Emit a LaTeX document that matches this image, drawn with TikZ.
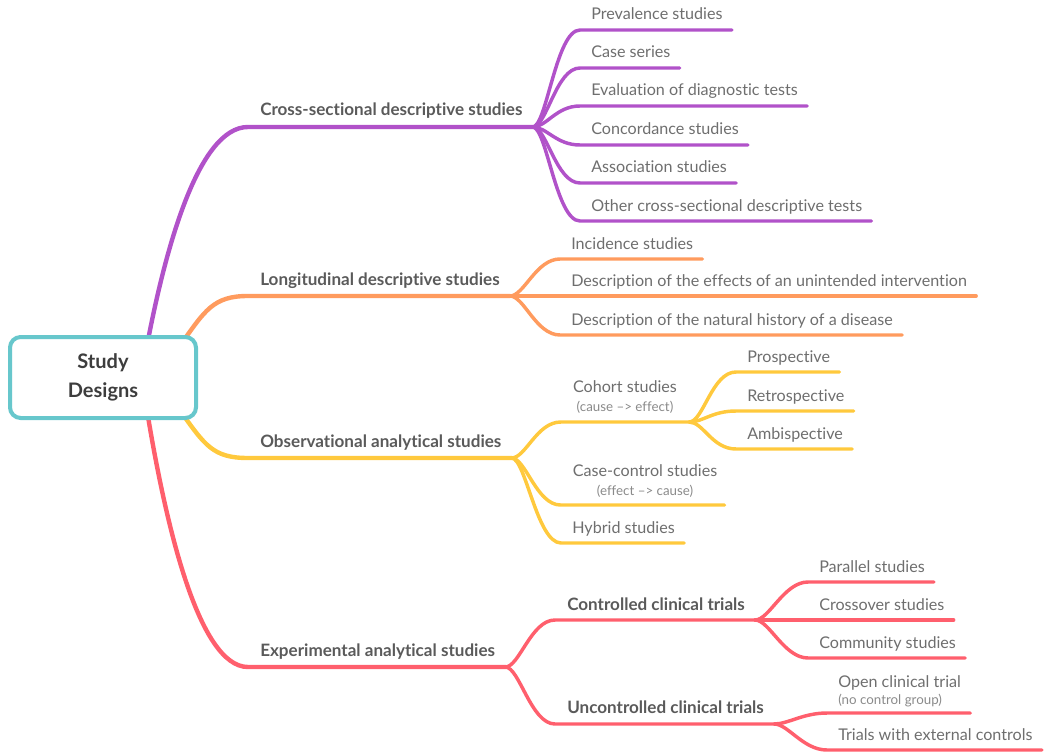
\documentclass[tikz,border=0pt]{standalone}
\usepackage{fontspec}
\setmainfont{Lato}[Ligatures={TeX,NoCommon}]
\usetikzlibrary{calc}
\definecolor{cpurple}{HTML}{B152C9}
\definecolor{corange}{HTML}{FF9B5E}
\definecolor{cyellow}{HTML}{FFC93D}
\definecolor{cred}{HTML}{FF5F6D}
\definecolor{ccyan}{HTML}{67C7CC}
\definecolor{leafgray}{HTML}{6E6E6E}
\definecolor{maingray}{HTML}{5A5A5A}
\definecolor{rootgray}{HTML}{3D3D3D}
\definecolor{notegray}{HTML}{8A8A8A}
\pgfdeclarelayer{bg}
\pgfsetlayers{bg,main}
\begin{document}
\begin{tikzpicture}[x=0.75pt,y=-0.75pt,
  leaf/.style={anchor=base west, inner sep=0pt, text=leafgray, font=\fontsize{12.1}{14}\selectfont},
  leafc/.style={anchor=base, inner sep=0pt, text=leafgray, font=\fontsize{12.1}{14}\selectfont},
  mainlbl/.style={anchor=base west, inner sep=0pt, text=maingray, font=\bfseries\fontsize{12.8}{15}\selectfont},
  notec/.style={anchor=base, inner sep=0pt, text=notegray, font=\fontsize{10}{12}\selectfont},
  notel/.style={anchor=base west, inner sep=0pt, text=notegray, font=\fontsize{10}{12}\selectfont},
  rootbox/.style={draw=ccyan, line width=3pt, rounded corners=8pt, fill=white,
    minimum width=139.5pt, minimum height=60.75pt, align=center, inner sep=0pt,
    text=rootgray, font=\bfseries\fontsize{15}{21.75}\selectfont},
  trunk/.style={line width=3.3pt, line cap=round},
  twig/.style={line width=2.6pt, line cap=round},
]
\useasboundingbox (0,0) rectangle (1044,752);

% ---------- root ----------
\node[rootbox] (root) at (103,377.5) {Study\\Designs};
\coordinate (r1) at ($(root.center)+(44,-32)$);
\coordinate (r2) at ($(root.center)+(77,-32)$);
\coordinate (r3) at ($(root.center)+(77,33)$);
\coordinate (r4) at ($(root.center)+(44,33)$);

% ---------- main labels ----------
\node[mainlbl] (pm) at (260,116) {Cross-sectional descriptive studies};
\node[mainlbl] (om) at (260,285) {Longitudinal descriptive studies};
\node[mainlbl] (ym) at (260,447) {Observational analytical studies};
\node[mainlbl] (rm) at (260,656) {Experimental analytical studies};
\foreach \n in {pm,om,ym,rm}{
  \coordinate (\n s) at ($(\n.base west)+(-12,11)$);
  \coordinate (\n f) at ($(\n.base east)+(10,11)$);
}

% ---------- purple leaves ----------
\node[leaf] (p1) at (591,20) {Prevalence studies};
\node[leaf] (p2) at (591,58) {Case series};
\node[leaf] (p3) at (591,96) {Evaluation of diagnostic tests};
\node[leaf] (p4) at (591,135) {Concordance studies};
\node[leaf] (p5) at (591,173) {Association studies};
\node[leaf] (p6) at (591,211) {Other cross-sectional descriptive tests};

% ---------- orange leaves ----------
\node[leaf] (o1) at (571,249) {Incidence studies};
\node[leaf] (o2) at (571,286) {Description of the effects of an unintended intervention};
\node[leaf] (o3) at (571,325) {Description of the natural history of a disease};

% ---------- yellow ----------
\node[leafc] (y1) at (625,392) {Cohort studies};
\node[notec] (y1n) at ($(y1.base)+(0,19)$) {(cause –> effect)};
\node[leafc] (y2) at (645,476) {Case-control studies};
\node[notec] (y2n) at ($(y2.base)+(0,19)$) {(effect –> cause)};
\node[leaf] (y3) at (572,533) {Hybrid studies};
\node[leaf] (c1) at (747,362) {Prospective};
\node[leaf] (c2) at (747,401) {Retrospective};
\node[leaf] (c3) at (747,439) {Ambispective};

% ---------- red ----------
\node[mainlbl] (k1) at (567,610) {Controlled clinical trials};
\node[mainlbl] (k2) at (567,713) {Uncontrolled clinical trials};
\node[leaf] (k11) at (819,572) {Parallel studies};
\node[leaf] (k12) at (819,610) {Crossover studies};
\node[leaf] (k13) at (819,648) {Community studies};
\node[leaf] (k21) at (838,687) {Open clinical trial};
\node[notel] (k21n) at ($(k21.base west)+(0,17)$) {(no control group)};
\node[leaf] (k22) at (838,740) {Trials with external controls};

% line end points
\foreach \n in {p1,p2,p3,p4,p5,p6,o1,o2,o3,y3,c1,c2,c3,k11,k12,k13,k22}{
  \coordinate (\n s) at ($(\n.base west)+(-11,10)$);
  \coordinate (\n e) at ($(\n.base east)+(9,10)$);
}
\coordinate (y1s) at ($(y1.base west)+(-12,30)$);
\coordinate (y1f) at ($(y1.base east)+(12,30)$);
\coordinate (y2s) at ($(y2.base west)+(-12,29)$);
\coordinate (y2e) at ($(y2.base east)+(7,29)$);
\coordinate (k1s) at ($(k1.base west)+(-12,10)$);
\coordinate (k1f) at ($(k1.base east)+(10,10)$);
\coordinate (k2s) at ($(k2.base west)+(-12,11)$);
\coordinate (k2f) at ($(k2.base east)+(10,11)$);
\coordinate (k21s) at ($(k21.base west)+(-11,26)$);
\coordinate (k21e) at ($(k21.base east)+(9,26)$);

\begin{pgfonlayer}{bg}
% trunks
\draw[trunk,cpurple] (r1) .. controls +(18,-95) and +(-50,0) .. (pms) -- (pmf);
\draw[trunk,corange] (r2) .. controls +(25,-35) and +(-35,0) .. (oms) -- (omf);
\draw[trunk,cyellow] (r3) .. controls +(25,35) and +(-35,0) .. (yms) -- (ymf);
\draw[trunk,cred] (r4) .. controls +(18,110) and +(-50,0) .. (rms) -- (rmf);
% purple twigs
\foreach \n in {p1,p2,p3,p4,p5,p6}
  \draw[twig,cpurple] (pmf) .. controls +(14,0) and +(-24,0) .. (\n s) -- (\n e);
% orange twigs
\foreach \n in {o1,o2,o3}
  \draw[twig,corange] (omf) .. controls +(14,0) and +(-24,0) .. (\n s) -- (\n e);
% yellow twigs
\draw[twig,cyellow] (ymf) .. controls +(14,0) and +(-24,0) .. (y1s) -- (y1f);
\draw[twig,cyellow] (ymf) .. controls +(14,0) and +(-24,0) .. (y2s) -- (y2e);
\draw[twig,cyellow] (ymf) .. controls +(14,0) and +(-24,0) .. (y3s) -- (y3e);
\foreach \n in {c1,c2,c3}
  \draw[twig,cyellow] (y1f) .. controls +(14,0) and +(-24,0) .. (\n s) -- (\n e);
% red twigs
\draw[twig,cred] (rmf) .. controls +(14,0) and +(-24,0) .. (k1s) -- (k1f);
\draw[twig,cred] (rmf) .. controls +(14,0) and +(-24,0) .. (k2s) -- (k2f);
\foreach \n in {k11,k12,k13}
  \draw[twig,cred] (k1f) .. controls +(14,0) and +(-24,0) .. (\n s) -- (\n e);
\draw[twig,cred] (k2f) .. controls +(14,0) and +(-24,0) .. (k21s) -- (k21e);
\draw[twig,cred] (k2f) .. controls +(14,0) and +(-24,0) .. (k22s) -- (k22e);
\end{pgfonlayer}
\end{tikzpicture}
\end{document}
